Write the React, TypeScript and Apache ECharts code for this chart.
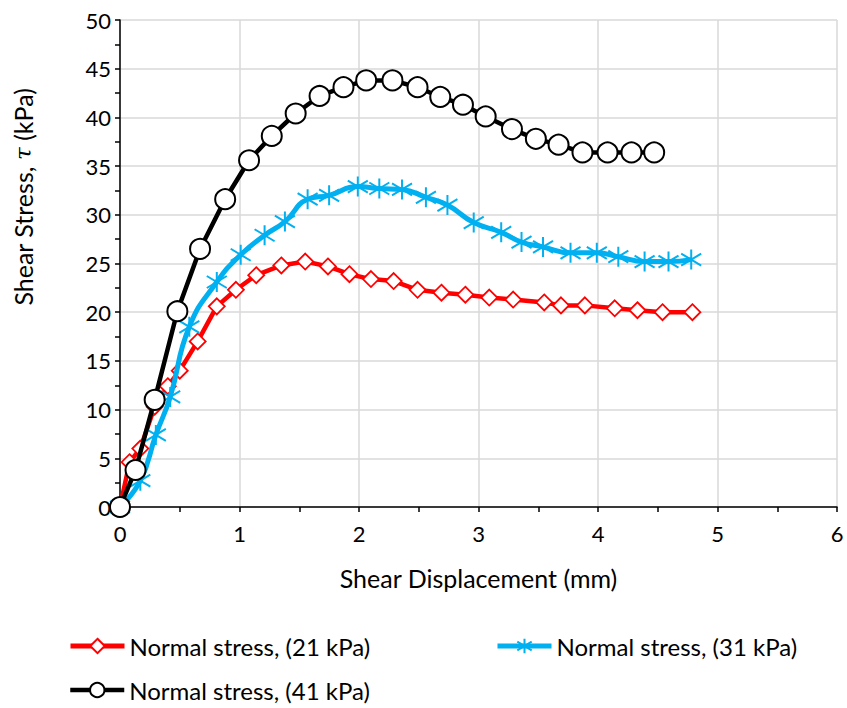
import React, { useEffect, useRef } from "react";
import * as echarts from "echarts";

const x21 = [0, 0.08, 0.17, 0.29, 0.4, 0.5, 0.65, 0.81, 0.97, 1.14, 1.35, 1.55, 1.74, 1.92, 2.1, 2.29, 2.49, 2.69, 2.89, 3.09, 3.29, 3.55, 3.69, 3.89, 4.14, 4.33, 4.54, 4.79];
const y21 = [0, 4.6, 6.0, 10.3, 12.4, 14.0, 17.0, 20.6, 22.3, 23.8, 24.8, 25.2, 24.7, 23.9, 23.4, 23.2, 22.3, 22.0, 21.8, 21.5, 21.3, 21.0, 20.7, 20.7, 20.4, 20.2, 20.0, 20.0];

const x31 = [0, 0.17, 0.3, 0.42, 0.58, 0.81, 1.01, 1.21, 1.38, 1.57, 1.75, 1.99, 2.17, 2.36, 2.56, 2.74, 2.96, 3.19, 3.36, 3.54, 3.77, 3.99, 4.17, 4.39, 4.59, 4.78];
const y31 = [0, 2.7, 7.4, 11.3, 18.5, 23.1, 25.9, 27.9, 29.3, 31.6, 32.0, 32.9, 32.7, 32.6, 31.8, 31.0, 29.2, 28.2, 27.2, 26.7, 26.1, 26.1, 25.7, 25.2, 25.2, 25.4];

const x41 = [0, 0.13, 0.29, 0.48, 0.67, 0.88, 1.08, 1.27, 1.47, 1.67, 1.87, 2.06, 2.28, 2.49, 2.68, 2.87, 3.06, 3.28, 3.48, 3.67, 3.87, 4.08, 4.28, 4.47];
const y41 = [0, 3.8, 11.0, 20.1, 26.5, 31.6, 35.6, 38.1, 40.4, 42.2, 43.1, 43.8, 43.8, 43.1, 42.1, 41.3, 40.1, 38.8, 37.8, 37.2, 36.4, 36.4, 36.4, 36.4];

const seriesNames = ["Normal stress, (21 kPa)", "Normal stress, (31 kPa)", "Normal stress, (41 kPa)"];
const xAxisTitle = "Shear Displacement (mm)";

const FONT = "Lato, 'Open Sans', sans-serif";
const STAR = "path://M10,0L10,20M2,4L18,16M2,16L18,4";

const zip = (xs: number[], ys: number[]) => xs.map((x, i) => [x, ys[i]]);

const legendBase = {
  itemWidth: 54,
  itemHeight: 18,
  itemGap: 5,
  textStyle: { fontFamily: FONT, fontSize: 24, color: "#000" },
};

export default function App() {
  const ref = useRef<HTMLDivElement>(null);
  useEffect(() => {
    if (!ref.current) return;
    const chart = echarts.init(ref.current, undefined, { renderer: "svg" });
    chart.setOption({
      animation: false,
      backgroundColor: "#ffffff",
      grid: { left: 120, right: 10, top: 20, bottom: 201, containLabel: false },
      xAxis: {
        type: "value",
        min: 0,
        max: 6,
        interval: 1,
        name: xAxisTitle,
        nameLocation: "middle",
        nameGap: 58,
        nameTextStyle: { fontFamily: FONT, fontSize: 25, color: "#000" },
        axisLine: { show: true, onZero: false, lineStyle: { color: "#000", width: 1.5 } },
        axisTick: { show: true, inside: false, length: 5, lineStyle: { color: "#000", width: 1.5 } },
        minorTick: { show: true, splitNumber: 2, length: 5, lineStyle: { color: "#000", width: 1.5 } },
        axisLabel: { fontFamily: FONT, fontSize: 22, color: "#000", margin: 15 },
        splitLine: { show: true, lineStyle: { color: "#d9d9d9", width: 1.5 } },
      },
      yAxis: {
        type: "value",
        min: 0,
        max: 50,
        interval: 5,
        axisLine: { show: true, onZero: false, lineStyle: { color: "#000", width: 1.5 } },
        axisTick: { show: true, inside: false, length: 5, lineStyle: { color: "#000", width: 1.5 } },
        minorTick: { show: true, splitNumber: 2, length: 5, lineStyle: { color: "#000", width: 1.5 } },
        axisLabel: { fontFamily: FONT, fontSize: 22, color: "#000", margin: 9 },
        splitLine: { show: true, lineStyle: { color: "#d9d9d9", width: 1.5 } },
      },
      graphic: [
        {
          type: "text",
          x: 23,
          y: 197,
          rotation: Math.PI / 2,
          style: {
            text: "Shear Stress, {i|τ} (kPa)",
            font: `25px ${FONT}`,
            fill: "#000",
            align: "center",
            verticalAlign: "middle",
            rich: { i: { fontStyle: "italic", fontFamily: "'DejaVu Serif', serif", fontSize: 23, fill: "#000" } },
          },
        },
      ],
      legend: [
        { ...legendBase, data: [seriesNames[0]], left: 63, top: 629, lineStyle: { width: 5 } },
        { ...legendBase, data: [seriesNames[1]], left: 490, top: 629, lineStyle: { width: 5 } },
        { ...legendBase, data: [seriesNames[2]], left: 63, top: 673, lineStyle: { width: 4.5 } },
      ],
      series: [
        {
          name: seriesNames[0],
          type: "line",
          data: zip(x21, y21),
          symbol: "diamond",
          symbolSize: 16,
          lineStyle: { color: "#ff0000", width: 4.5 },
          itemStyle: { color: "#ffffff", borderColor: "#ff0000", borderWidth: 1.8 },
          z: 2,
        },
        {
          name: seriesNames[1],
          type: "line",
          data: zip(x31, y31),
          smooth: 0.5,
          symbol: STAR,
          symbolSize: 20,
          lineStyle: { color: "#00b0f0", width: 5 },
          itemStyle: { color: "none", borderColor: "#00b0f0", borderWidth: 2 },
          z: 3,
        },
        {
          name: seriesNames[2],
          type: "line",
          data: zip(x41, y41),
          symbol: "circle",
          symbolSize: 20,
          lineStyle: { color: "#000000", width: 4.5 },
          itemStyle: { color: "#ffffff", borderColor: "#000000", borderWidth: 2 },
          z: 4,
        },
      ],
    });
    return () => chart.dispose();
  }, []);
  return (
    <div
      ref={ref}
      style={{ position: "absolute", left: 0, top: 0, width: 847, height: 708, background: "#fff" }}
    />
  );
}
